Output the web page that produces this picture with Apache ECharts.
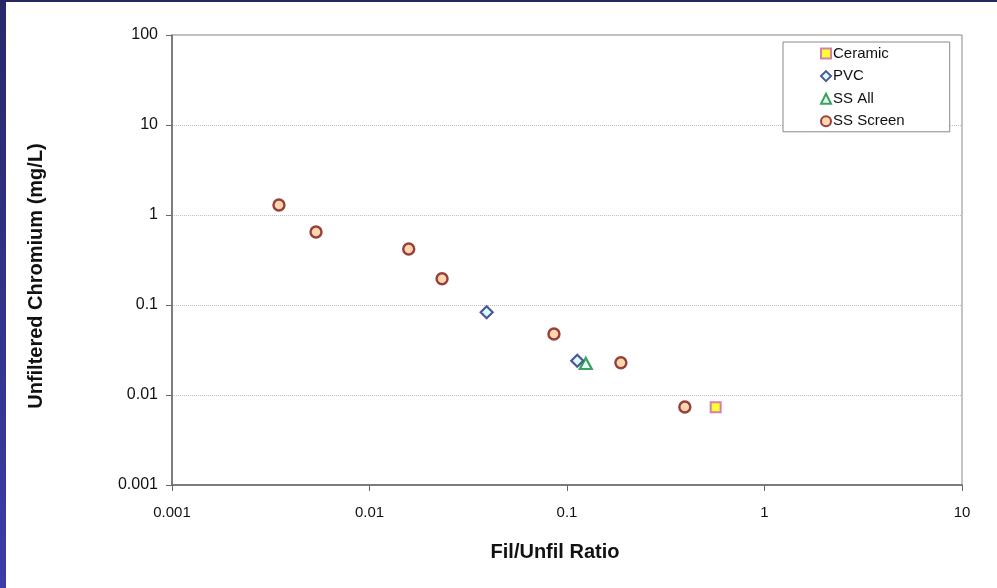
<!DOCTYPE html>
<html>
<head>
<meta charset="utf-8">
<script src="https://cdn.jsdelivr.net/npm/echarts@6/dist/echarts.min.js"></script>
<style>
html,body{margin:0;padding:0;background:#fff;}
#c{width:997px;height:588px;}
</style>
</head>
<body>
<div id="c"></div>
<script>
// Data (x = Fil/Unfil ratio, y = Unfiltered Cr mg/L)
var ceramic = [[0.566, 0.0073]];
var pvc = [[0.0392, 0.083], [0.1127, 0.024]];
var ssAll = [[0.1245, 0.0224]];
var ssScreen = [
  [0.00348, 1.29],
  [0.00536, 0.647],
  [0.0158, 0.419],
  [0.0233, 0.196],
  [0.0859, 0.0476],
  [0.1874, 0.0228],
  [0.395, 0.00736]
];
var xTickLabels = {'-3':'0.001','-2':'0.01','-1':'0.1','0':'1','1':'10'};
var yTickLabels = {'-3':'0.001','-2':'0.01','-1':'0.1','0':'1','1':'10','2':'100'};

function lbl(map){
  return function(v){
    var e = Math.round(Math.log10(v));
    return map[String(e)] !== undefined ? map[String(e)] : '';
  };
}

var FONT = 'Liberation Sans, Arial, sans-serif';
var chart = echarts.init(document.getElementById('c'), null, {renderer:'canvas'});
chart.setOption({
  animation: false,
  backgroundColor: '#ffffff',
  grid: {left:172, top:35, width:790, height:450, show:true, borderColor:'#888', borderWidth:1, backgroundColor:'transparent'},
  xAxis: {
    type:'log', logBase:10, min:0.001, max:10, interval:1,
    axisLine:{show:true, onZero:false, lineStyle:{color:'#666', width:1.5}},
    axisTick:{show:true, inside:false, length:6, lineStyle:{color:'#666'}},
    axisLabel:{formatter: lbl(xTickLabels), fontFamily:FONT, fontSize:15, color:'#111', margin:20},
    splitLine:{show:false},
    minorTick:{show:false}
  },
  yAxis: {
    type:'log', logBase:10, min:0.001, max:100, interval:1,
    axisLine:{show:true, onZero:false, lineStyle:{color:'#666', width:1.5}},
    axisTick:{show:true, inside:false, length:6, lineStyle:{color:'#666'}},
    axisLabel:{formatter: lbl(yTickLabels), fontFamily:FONT, fontSize:16, color:'#111', margin:14},
    splitLine:{show:true, lineStyle:{color:'#c0c0c0', type:'dotted', width:1}}
  },
  legend: {
    orient:'vertical', left:783, top:42,
    padding:[4, 45, 3, 37],
    borderColor:'#888', borderWidth:1, backgroundColor:'#fff',
    itemWidth:10, itemHeight:10, itemGap:7.6,
    textStyle:{fontFamily:FONT, fontSize:15, color:'#111', lineHeight:15, padding:[0,0,0,-3]},
    data:['Ceramic','PVC','SS All','SS Screen']
  },
  series: [
    {name:'Ceramic', type:'scatter', data:ceramic, symbol:'rect', symbolSize:10,
     itemStyle:{color:'#ffff00', borderColor:'#cc5fb0', borderWidth:2}},
    {name:'PVC', type:'scatter', data:pvc, symbol:'diamond', symbolSize:12,
     itemStyle:{color:'#ccffff', borderColor:'#2a2a80', borderWidth:2.2}},
    {name:'SS All', type:'scatter', data:ssAll, symbol:'triangle', symbolSize:[12,11],
     itemStyle:{color:'#ddffee', borderColor:'#0e8a40', borderWidth:2.2}},
    {name:'SS Screen', type:'scatter', data:ssScreen, symbol:'circle', symbolSize:11,
     itemStyle:{color:'#ffcc99', borderColor:'#7a1414', borderWidth:2.4}}
  ],
  graphic: [
    {type:'rect', left:0, top:0, shape:{width:6, height:588}, z:100,
     style:{fill:new echarts.graphic.LinearGradient(0,0,0,1,[{offset:0,color:'#28286a'},{offset:1,color:'#3c3ca8'}])}},
    {type:'rect', left:0, top:0, shape:{width:997, height:2}, z:100, style:{fill:'#262660'}},
    {type:'text', x:36, y:276, rotation:Math.PI/2, z:50,
     style:{text:'Unfiltered Chromium (mg/L)', font:'bold 20px Liberation Sans, Arial, sans-serif', fill:'#111', align:'center', verticalAlign:'middle'}},
    {type:'text', x:555, y:552, z:50,
     style:{text:'Fil/Unfil Ratio', font:'bold 20px Liberation Sans, Arial, sans-serif', fill:'#111', align:'center', verticalAlign:'middle'}}
  ]
});
</script>
</body>
</html>
